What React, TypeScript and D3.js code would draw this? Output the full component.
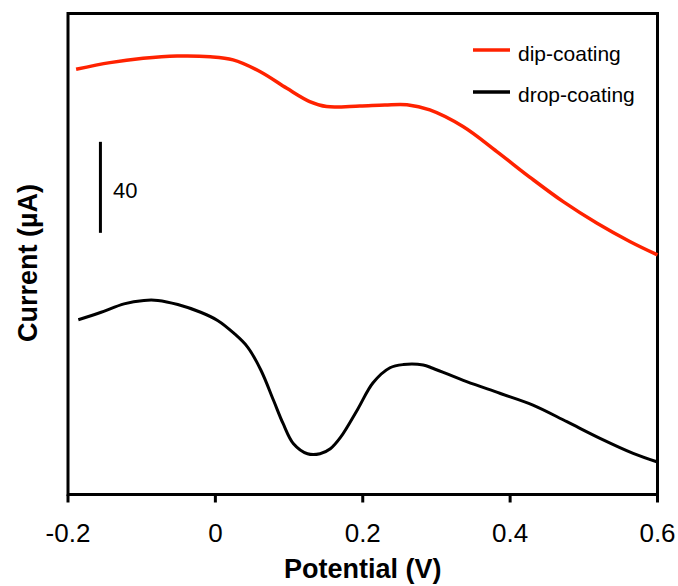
import React from 'react';
import * as d3 from 'd3';

// potential (V) and current (µA, arbitrary offset)
const dipPotential = [-0.189, -0.143, -0.098, -0.052, -0.007, 0.024, 0.061, 0.097, 0.128, 0.151, 0.196, 0.230, 0.260, 0.291, 0.336, 0.382, 0.427, 0.472, 0.518, 0.563, 0.600];
const dipCurrent = [186.9, 189.8, 191.7, 192.7, 192.4, 191.0, 185.8, 178.5, 172.7, 170.5, 170.8, 171.2, 171.3, 169.0, 161.7, 150.7, 139.4, 128.7, 119.2, 111.1, 105.3];

const dropPotential = [-0.186, -0.155, -0.124, -0.097, -0.078, -0.051, -0.020, 0.003, 0.025, 0.044, 0.062, 0.079, 0.092, 0.106, 0.125, 0.142, 0.156, 0.170, 0.193, 0.214, 0.237, 0.255, 0.282, 0.295, 0.341, 0.386, 0.431, 0.477, 0.522, 0.567, 0.599];
const dropCurrent = [76.8, 80.1, 83.8, 85.3, 85.3, 83.5, 80.1, 76.5, 70.9, 64.7, 54.5, 41.3, 31.1, 22.3, 17.9, 17.9, 20.1, 25.2, 37.4, 49.1, 55.7, 57.1, 56.9, 55.5, 49.6, 44.5, 39.3, 32.0, 24.7, 18.1, 14.4];

const xTicks = [-0.2, 0, 0.2, 0.4, 0.6];
const scaleBarValue = 40;
const scaleBarBase = 115;

const font = '"Liberation Sans", Arial, sans-serif';

const App = () => {
    const width = 678;
    const height = 586;
    const left = 68, right = 657.5, top = 13.5, bottom = 494.5;

    const x = d3.scaleLinear().domain([-0.2, 0.6]).range([left, right]);
    const y = d3.scaleLinear().domain([0, 211.4]).range([bottom, top]);

    const line = d3.line<[number, number]>()
        .x(d => x(d[0]))
        .y(d => y(d[1]))
        .curve(d3.curveCatmullRom.alpha(0.5));

    const dip = dipPotential.map((p, i) => [p, dipCurrent[i]] as [number, number]);
    const drop = dropPotential.map((p, i) => [p, dropCurrent[i]] as [number, number]);

    return (
        <svg width={width} height={height} style={{ position: 'absolute', left: 0, top: 0, background: 'white' }}>
            <rect x={left} y={top} width={right - left} height={bottom - top} fill="none" stroke="black" strokeWidth={3} />
            {xTicks.map(t => (
                <g key={t}>
                    <line x1={x(t)} x2={x(t)} y1={bottom} y2={bottom + 8} stroke="black" strokeWidth={3} />
                    <text x={x(t)} y={542} textAnchor="middle" fontFamily={font} fontSize={26}>{t}</text>
                </g>
            ))}
            <path d={line(dip) || ''} fill="none" stroke="#ff2200" strokeWidth={3.5} />
            <path d={line(drop) || ''} fill="none" stroke="black" strokeWidth={3} />

            {/* scale bar */}
            <line x1={x(-0.156)} x2={x(-0.156)} y1={y(scaleBarBase)} y2={y(scaleBarBase + scaleBarValue)} stroke="black" strokeWidth={3} />
            <text x={113} y={198} fontFamily={font} fontSize={22}>{scaleBarValue}</text>

            {/* legend */}
            <line x1={473} x2={510} y1={50} y2={50} stroke="#ff2200" strokeWidth={3.5} />
            <text x={518} y={61} fontFamily={font} fontSize={21}>dip-coating</text>
            <line x1={473} x2={510} y1={92} y2={92} stroke="black" strokeWidth={3.5} />
            <text x={518} y={102} fontFamily={font} fontSize={21}>drop-coating</text>

            <text x={(left + right) / 2} y={578} textAnchor="middle" fontFamily={font} fontSize={27} fontWeight="bold">Potential (V)</text>
            <text transform={`translate(37, 263) rotate(-90)`} textAnchor="middle" fontFamily={font} fontSize={27} fontWeight="bold">Current (µA)</text>
        </svg>
    );
};

export default App;
